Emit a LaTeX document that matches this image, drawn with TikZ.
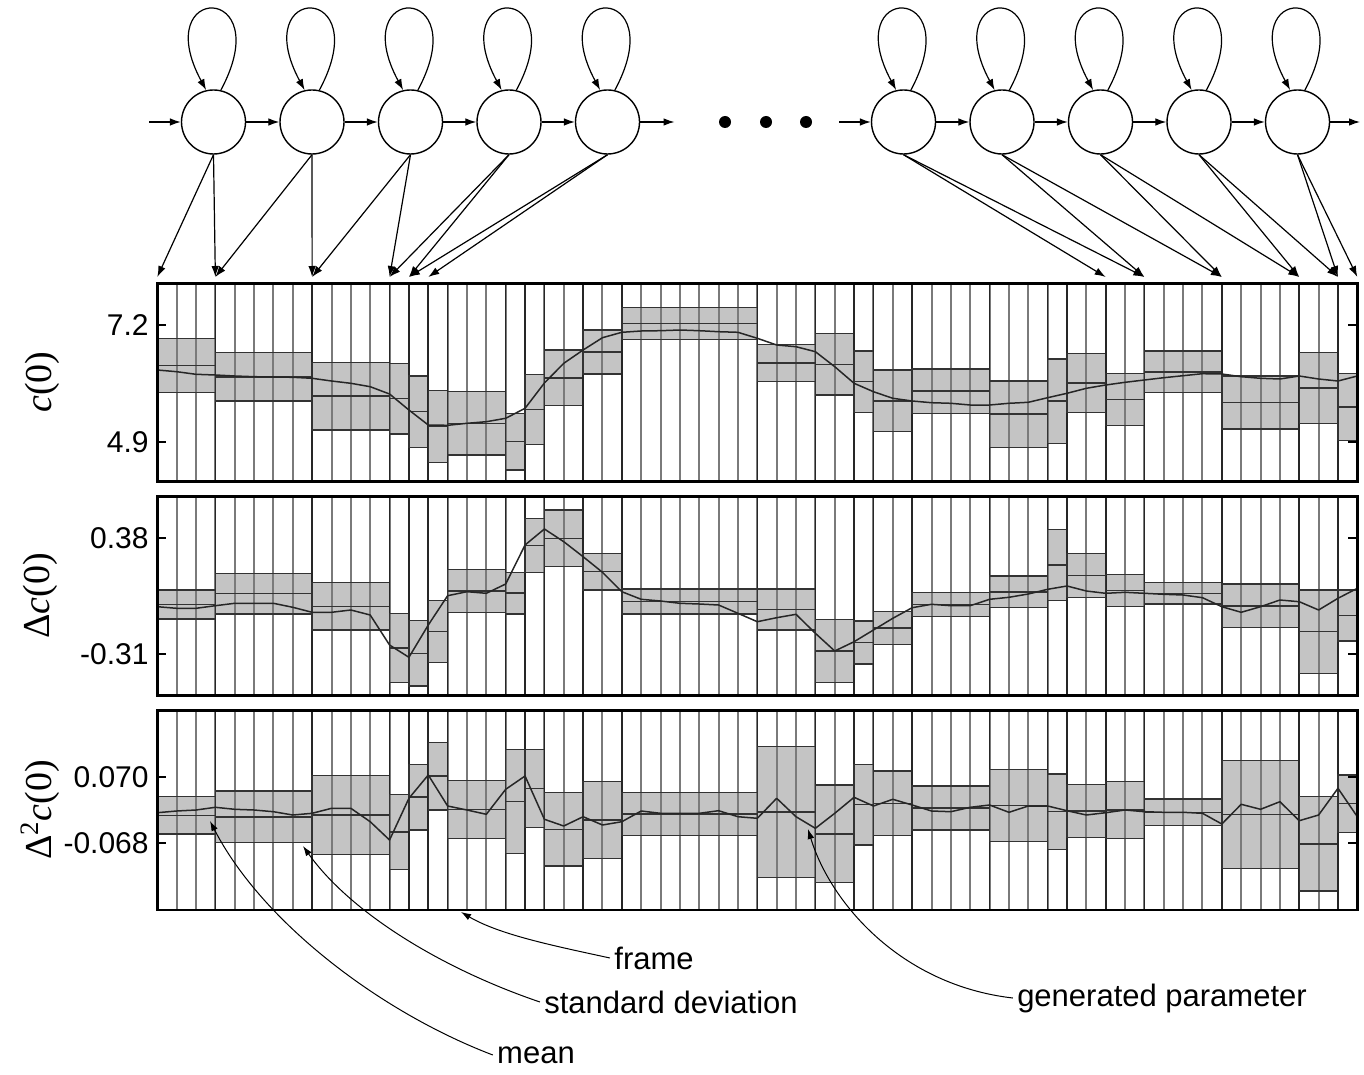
\documentclass[tikz,border=0pt]{standalone}
\usepackage{fontspec}
\setmainfont{Liberation Sans}
\newfontfamily\tms{Liberation Serif}
\usetikzlibrary{arrows.meta}
\def\fw{19.355}
% one panel: #1 top, #2 bottom, #3 segments a/b/top/bottom, #4 first trajectory value, #5 trajectory values
\newcommand\drawpanel[5]{%
  \foreach \sa/\sb/\st/\sl in {#3}{\fill[boxfill] ({157.3+\sa*\fw},-\st) rectangle ({157.3+\sb*\fw},-\sl);}
  \foreach \k in {1,...,61}{\draw[frameline] ({157.3+\k*\fw},-#1) -- ({157.3+\k*\fw},-#2);}
  \foreach \sa/\sb/\st/\sl in {#3}{%
    \draw[boxline] ({157.3+\sa*\fw},-\st) rectangle ({157.3+\sb*\fw},-\sl);
    \draw[boxline] ({157.3+\sa*\fw},{-(\st+\sl)/2}) -- ({157.3+\sb*\fw},{-(\st+\sl)/2});
    \draw[bound] ({157.3+\sb*\fw},-#1) -- ({157.3+\sb*\fw},-#2);}
  \draw[traj] (157.3,-#4) \foreach \v [count=\k from 0] in {#5}{ -- ({157.3+\k*\fw},-\v) };
  \draw[border] (157.3,-#1) rectangle (1357.3,-#2);
}
\begin{document}
\begin{tikzpicture}[x=0.5pt,y=0.5pt,
  state/.style={circle,draw,line width=0.7pt,minimum size=32pt,inner sep=0pt},
  link/.style={line width=0.6pt,-{Latex[length=5.5pt,width=3.8pt]}},
  boxfill/.style={fill=black!23},
  frameline/.style={draw=black!52,line width=1pt},
  boxline/.style={draw=black!80,line width=0.75pt},
  bound/.style={draw=black!85,line width=0.8pt},
  traj/.style={draw=black!85,line width=0.75pt,line join=round},
  border/.style={draw=black,line width=1.4pt},
  tick/.style={line width=0.9pt},
  ticklab/.style={anchor=east,font=\fontsize{15}{15}\selectfont,inner sep=0pt},
  axlab/.style={rotate=90,font=\tms\fontsize{19}{19}\selectfont,inner sep=0pt},
  note/.style={font=\fontsize{15.5}{15.5}\selectfont,inner sep=2pt},
  pointer/.style={line width=0.5pt,-{Latex[length=5pt,width=3.4pt]}},
  dot/.style={circle,fill,minimum size=6pt,inner sep=0pt}
]
\useasboundingbox (0,0) rectangle (1364,-1075);

% ---- HMM states ----
\foreach \i/\x in {1/213.5,2/312,3/410.5,4/509,5/607.5,6/903.5,7/1002,8/1100.5,9/1199,10/1297.5}
  \node[state] (S\i) at (\x,-122) {};
\foreach \i in {1,...,10}
  \draw[link] (S\i.77) .. controls +(58,108) and +(-58,108) .. (S\i.103);
\coordinate (inL) at (149,-122);
\coordinate (outL) at (674.5,-122);
\coordinate (inR) at (839,-122);
\coordinate (outR) at (1360,-122);
\draw[link] (inL) -- (S1);
\draw[link] (S1) -- (S2);
\draw[link] (S2) -- (S3);
\draw[link] (S3) -- (S4);
\draw[link] (S4) -- (S5);
\draw[link] (S5) -- (outL);
\draw[link] (inR) -- (S6);
\draw[link] (S6) -- (S7);
\draw[link] (S7) -- (S8);
\draw[link] (S8) -- (S9);
\draw[link] (S9) -- (S10);
\draw[link] (S10) -- (outR);
\foreach \x [count=\i] in {725,766,806} \node[dot] (dot\i) at (\x,-122) {};

% ---- state boundaries on the top panel ----
\foreach \k in {0,3,8,12,13,14,49,51,55,59,61,62}
  \coordinate (b\k) at ({157.3+\k*\fw},-277);
\foreach \i/\p/\q in {1/0/3,2/3/8,3/8/12,4/12/13,5/13/14,6/49/51,7/51/55,8/55/59,9/59/61,10/61/62}{
  \draw[link] (S\i.south) -- (b\p);
  \draw[link] (S\i.south) -- (b\q);
}

% ---- c(0) ----
\drawpanel{283.3}{481.7}{0/3/338.3/392.7, 3/8/352.7/401, 8/12/362.3/430, 12/13/363.3/434, 13/14/376/447.3, 14/15/390.7/462.7, 15/18/391.7/455, 18/19/413.3/470, 19/20/374.3/444.3, 20/22/350/405.7, 22/24/330/374, 24/31/307.7/339.3, 31/34/344.7/381.7, 34/36/333.7/395, 36/37/351/412.3, 37/39/370/431.7, 39/43/369/413.3, 43/46/381/447.3, 46/47/359/443.3, 47/49/353.3/412.3, 49/51/373.3/425.3, 51/55/351/392.7, 55/59/376/429, 59/61/352.3/423.3, 61/62/373.3/440.7}{370}{370,371.7,374.3,375,376,376.7,377,377.3,378.3,381,383.3,386.7,394,410,425,425.3,423.3,421.7,418.3,408.3,383,363.3,350,337.7,332.3,331,330.7,330,330.7,331.7,332.3,338.3,345,346.7,351.7,366.7,383.3,391.7,398.3,401,402.7,403.3,405,405,403.3,402.3,397.7,393.3,388.3,385,382.3,380,377.7,375.7,373.7,374,376.7,378.3,379,376,379,381,376}

% ---- delta c(0) ----
\drawpanel{496.7}{695.7}{0/3/590/619, 3/8/573.3/614, 8/12/582.7/630, 12/13/613.7/682.3, 13/14/620.7/686, 14/15/600.7/662.3, 15/18/569.3/612.7, 18/19/572.3/614, 19/20/518.3/572.3, 20/22/510/566.7, 22/24/553.3/590, 24/31/589/614, 31/34/589/630, 34/36/619.3/682.3, 36/37/621/664, 37/39/611.7/644.3, 39/43/592.3/616.7, 43/46/576/607.7, 46/47/529.3/600.7, 47/49/553.3/597.3, 49/51/574.3/606.7, 51/55/582.7/604, 55/59/584/627.7, 59/61/590/673.3, 61/62/590/641}{606.7}{606.7,608.3,608.3,605.7,603.3,603.3,603.3,607.3,612.3,612.3,610,615,645,657.3,625,595.7,591.7,593.3,584,545,529,541.7,556.7,572.3,591.7,599.3,601,603.3,604,605,613.3,621.7,617.7,614.3,633.3,651,641.7,630,618.3,607.7,604.3,605.7,605.7,599.3,597.3,594,589.3,586,591,593.3,592.3,593.3,594.3,595,597.7,606.7,612.3,606.7,600,601.7,610,598.3,588.3}

% ---- delta^2 c(0) ----
\drawpanel{710.7}{910}{0/3/796.7/834, 3/8/791/842.7, 8/12/775.7/854.3, 12/13/794.3/869.3, 13/14/764.3/830, 14/15/742.3/810, 15/18/780.7/838.3, 18/19/749.3/853.3, 19/20/749.3/827.7, 20/22/792.7/866, 22/24/781.7/858.3, 24/31/792.7/835.7, 31/34/746.7/877.7, 34/36/785/882.7, 36/37/764.3/845, 37/39/771/835.7, 39/43/786/830, 43/46/769.3/841.7, 46/47/774/849.3, 47/49/784.3/837.3, 49/51/781.7/838.3, 51/55/799/825.7, 55/59/760.7/868.3, 59/61/796.7/891, 61/62/775/832.3}{812.7}{812.7,811,810,807.3,809.3,810,811.7,815,813.3,808.3,808.3,821.7,840,798.3,775,806,810,814.3,789.3,776,819.3,826,816.7,825,821.7,811,813.3,813.3,813.3,810.7,816.7,818.3,798.3,816.7,828.3,813.3,797.3,806,799.3,805,811,811.7,807.3,805,812.3,806,806,810.7,815,812.7,810,811.7,812.3,812.3,813.3,824,804.3,809.3,801.7,820.7,815,788.3,816.7}

% ---- axis ticks and labels ----
\foreach \y/\t [count=\i] in {325/7.2,442.3/4.9,538.3/0.38,654.3/-0.31,776.7/0.070,843.3/-0.068}{
  \draw[tick] (157.3,-\y) -- +(9,0);
  \draw[tick] (1357.3,-\y) -- +(-9,0);
  \node[ticklab] (tl\i) at (149,-\y) {\t};
}
\node[axlab] (lab1) at (42,-382) {\textit{c}(0)};
\node[axlab] (lab2) at (40,-596) {Δ\textit{c}(0)};
\node[axlab] (lab3) at (40,-810) {Δ\textsuperscript{2}\textit{c}(0)};

% ---- annotations ----
\node[note] (nframe) at (654,-958) {frame};
\node[note] (nstd) at (671,-1002) {standard deviation};
\node[note] (nmean) at (536,-1055) {mean};
\node[note] (ngen) at (1162,-998) {generated parameter};
\coordinate (pframe) at (461,-912);
\coordinate (pstd) at (303,-846);
\coordinate (pmean) at (210,-821);
\coordinate (pgen) at (808,-829);
\draw[pointer] (nframe.west) .. controls (555,-946) and (500,-935) .. (pframe);
\draw[pointer] (nstd.west) .. controls (440,-968) and (350,-912) .. (pstd);
\draw[pointer] (nmean.west) .. controls (380,-1012) and (262,-922) .. (pmean);
\draw[pointer] (ngen.west) .. controls (900,-985) and (830,-902) .. (pgen);
\end{tikzpicture}
\end{document}
